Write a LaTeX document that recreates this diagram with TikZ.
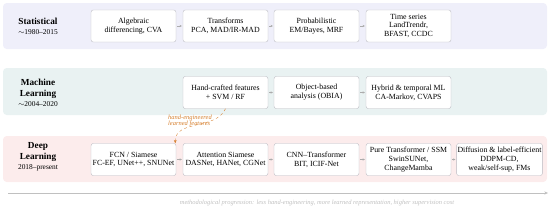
\documentclass[tikz,border=0pt]{standalone}
\usepackage{amsmath, amssymb}
\usepackage{fontspec}
\setmainfont{Liberation Serif}
\usepackage{tikz}
\usetikzlibrary{arrows.meta}

\definecolor{statband}{RGB}{239,239,250}
\definecolor{mlband}{RGB}{233,242,242}
\definecolor{dlband}{RGB}{252,236,236}
\definecolor{boxline}{RGB}{185,185,192}
\definecolor{annot}{RGB}{214,128,48}
\definecolor{faint}{RGB}{192,192,192}

\tikzset{
  band/.style={fill=#1, draw=none, rounded corners=4pt},
  method/.style={draw=boxline, fill=white, rounded corners=2.5pt, minimum width=3.23cm,
    minimum height=1.22cm, align=center, font=\fontsize{8.5}{9.6}\selectfont, inner sep=1pt},
  era/.style={align=center, font=\normalsize\bfseries},
  flow/.style={draw=gray!65, -{Stealth[length=2.5pt, width=2.5pt]}, shorten <=1pt, shorten >=1pt},
}

\begin{document}
\begin{tikzpicture}[x=0.038cm, y=-0.038cm]
    \useasboundingbox (0,0) rectangle (550,210);

    % bands
    \fill[band=statband] (3,3) rectangle (547,49);
    \fill[band=mlband] (3,68) rectangle (547,115);
    \fill[band=dlband] (3,136) rectangle (547,182);

    % era labels
    \node[era] (statlabel) at (38,26) {Statistical\\[-1pt]{\footnotesize\mdseries $\sim$1980--2015}};
    \node[era] (mllabel) at (38,93) {Machine\\Learning\\[-1pt]{\footnotesize\mdseries $\sim$2004--2020}};
    \node[era] (dllabel) at (38,157) {Deep\\Learning\\[-1pt]{\footnotesize\mdseries 2018--present}};

    % statistical
    \node[method] (alg) at (133.5,26) {Algebraic\\differencing, CVA};
    \node[method] (trans) at (225.5,26) {Transforms\\PCA, MAD/IR-MAD};
    \node[method] (prob) at (316.5,26) {Probabilistic\\EM/Bayes, MRF};
    \node[method] (tseries) at (408.5,26) {Time series\\LandTrendr,\\BFAST, CCDC};
    \draw[flow] (alg) -- (trans);
    \draw[flow] (trans) -- (prob);
    \draw[flow] (prob) -- (tseries);

    % machine learning
    \node[method] (handcraft) at (225.5,92.5) {Hand-crafted features\\+ SVM / RF};
    \node[method] (obia) at (316.5,92.5) {Object-based\\analysis (OBIA)};
    \node[method] (hybrid) at (408.5,92.5) {Hybrid \& temporal ML\\CA-Markov, CVAPS};
    \draw[flow] (handcraft) -- (obia);
    \draw[flow] (obia) -- (hybrid);

    % deep learning
    \node[method] (fcn) at (133.5,159.5) {FCN / Siamese\\FC-EF, UNet++, SNUNet};
    \node[method] (attn) at (225.5,159.5) {Attention Siamese\\DASNet, HANet, CGNet};
    \node[method] (cnntr) at (316.5,159.5) {CNN--Transformer\\BIT, ICIF-Net};
    \node[method] (puretr) at (408.5,159.5) {Pure Transformer / SSM\\SwinSUNet,\\ChangeMamba};
    \node[method] (diff) at (499.5,159.5) {Diffusion \& label-efficient\\DDPM-CD,\\weak/self-sup, FMs};
    \draw[flow] (fcn) -- (attn);
    \draw[flow] (attn) -- (cnntr);
    \draw[flow] (cnntr) -- (puretr);
    \draw[flow] (puretr) -- (diff);

    % paradigm shift
    \draw[annot, dashed, -{Stealth[length=3.5pt, width=3pt]}] (handcraft.south) to[out=-115, in=90] ([xshift=-1pt]fcn.north east);
    \node[annot, font=\scriptsize\itshape, align=left, inner sep=0pt] (shift) at (190,121) {hand-engineered\\[-2pt]learned features};

    % progression axis
    \coordinate (axisstart) at (8,193);
    \coordinate (axisend) at (548,193);
    \draw[faint, -{Stealth[length=4pt, width=3.5pt]}] (axisstart) -- (axisend);
    \node[faint, font=\scriptsize\itshape] (progress) at (317,203) {methodological progression: less hand-engineering, more learned representation, higher supervision cost};
\end{tikzpicture}
\end{document}
